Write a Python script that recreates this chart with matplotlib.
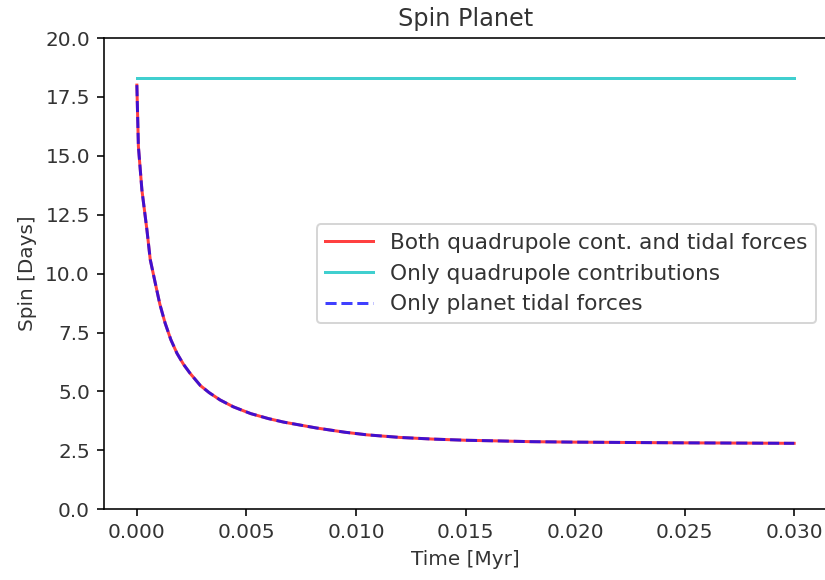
import matplotlib
matplotlib.use("Agg")
import matplotlib.pyplot as plt

# spin evolution
time_myr = [0.0, 0.00007, 0.00023, 0.00046, 0.00061, 0.00084, 0.00105, 0.00129,
            0.00155, 0.00183, 0.00213, 0.00243, 0.0029, 0.0033, 0.0038, 0.0044,
            0.0052, 0.006, 0.0067, 0.0082, 0.0095, 0.0105, 0.012, 0.0135,
            0.015, 0.0166, 0.018, 0.020, 0.025, 0.030]
spin_both = [18.0, 15.4, 13.55, 11.85, 10.6, 9.6, 8.7, 7.9,
             7.2, 6.62, 6.15, 5.77, 5.25, 4.95, 4.64, 4.35,
             4.06, 3.85, 3.7, 3.45, 3.27, 3.16, 3.05, 2.98,
             2.93, 2.90, 2.87, 2.85, 2.82, 2.80]
spin_tidal = list(spin_both)
quad_time = [0.0, 0.030]
spin_quad = [18.32, 18.32]

labels = ["Both quadrupole cont. and tidal forces",
          "Only quadrupole contributions",
          "Only planet tidal forces"]

plt.rcParams["font.size"] = 10
plt.rcParams["text.color"] = "#333333"
plt.rcParams["xtick.labelcolor"] = "#333333"
plt.rcParams["ytick.labelcolor"] = "#333333"
plt.rcParams["axes.labelcolor"] = "#333333"

fig = plt.figure(figsize=(825 / 144, 580 / 144), dpi=144)
ax = fig.add_axes([104 / 825, (580 - 509.3) / 580, (827 - 104) / 825, (509.3 - 38) / 580])

ax.plot(time_myr, spin_both, color="red", alpha=0.75, lw=1.5, label=labels[0])
ax.plot(quad_time, spin_quad, color="c", alpha=0.75, lw=1.5, label=labels[1])
ax.plot(time_myr, spin_tidal, color="blue", alpha=0.75, lw=1.5, ls="--", label=labels[2])

ax.set_ylim(0, 20)
ax.set_xlim(-0.0015, 0.0315)
ax.set_xticks([0.0, 0.005, 0.010, 0.015, 0.020, 0.025, 0.030])
ax.set_xticklabels(["0.000", "0.005", "0.010", "0.015", "0.020", "0.025", "0.030"])
ax.set_yticks([0, 2.5, 5, 7.5, 10, 12.5, 15, 17.5, 20])
ax.set_yticklabels(["0.0", "2.5", "5.0", "7.5", "10.0", "12.5", "15.0", "17.5", "20.0"])
ax.set_title("Spin Planet")
ax.set_xlabel("Time [Myr]")
ax.set_ylabel("Spin [Days]")
ax.legend(loc="center right", bbox_to_anchor=(1.0, 0.5), fontsize=10.8, handlelength=2.2)

fig.savefig("out.png", dpi=144)
